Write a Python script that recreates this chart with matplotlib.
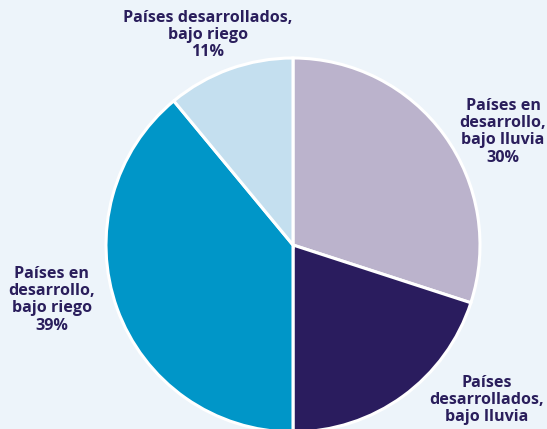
import matplotlib
matplotlib.use("Agg")
import matplotlib.pyplot as plt

categories = ["Países en\ndesarrollo,\nbajo lluvia",
              "Países\ndesarrollados,\nbajo lluvia",
              "Países en\ndesarrollo,\nbajo riego",
              "Países desarrollados,\nbajo riego"]
values = [30, 20, 39, 11]
show_pct = [True, False, True, True]
colors = ["#BBB3CC", "#2A1C5E", "#0096C8", "#C4DFEF"]
text_color = "#2A1E5C"
bg = "#EDF4FA"

W, H = 547, 429
fig = plt.figure(figsize=(W / 100, H / 100), dpi=100, facecolor=bg)
ax = fig.add_axes([0, 0, 1, 1])
ax.set_facecolor(bg)

cx, cy, r = 293, H - 245, 187
ax.pie(values, colors=colors, startangle=90, counterclock=False,
       center=(cx, cy), radius=r, frame=True,
       wedgeprops=dict(edgecolor="white", linewidth=2.2))
ax.set_xlim(0, W)
ax.set_ylim(0, H)
ax.set_aspect("equal")
ax.axis("off")

label_pos = [(503, H - 98), (487, H - 375), (52, H - 266), (208, H - 10)]
for cat, v, show, (x, y) in zip(categories, values, show_pct, label_pos):
    txt = f"{cat}\n{v}%" if show else cat
    ax.text(x, y, txt, ha="center", va="top", fontsize=11.6,
            fontweight="bold", family=["Open Sans", "DejaVu Sans"], color=text_color,
            linespacing=1.1)

fig.savefig("out.png", dpi=100, facecolor=bg)
